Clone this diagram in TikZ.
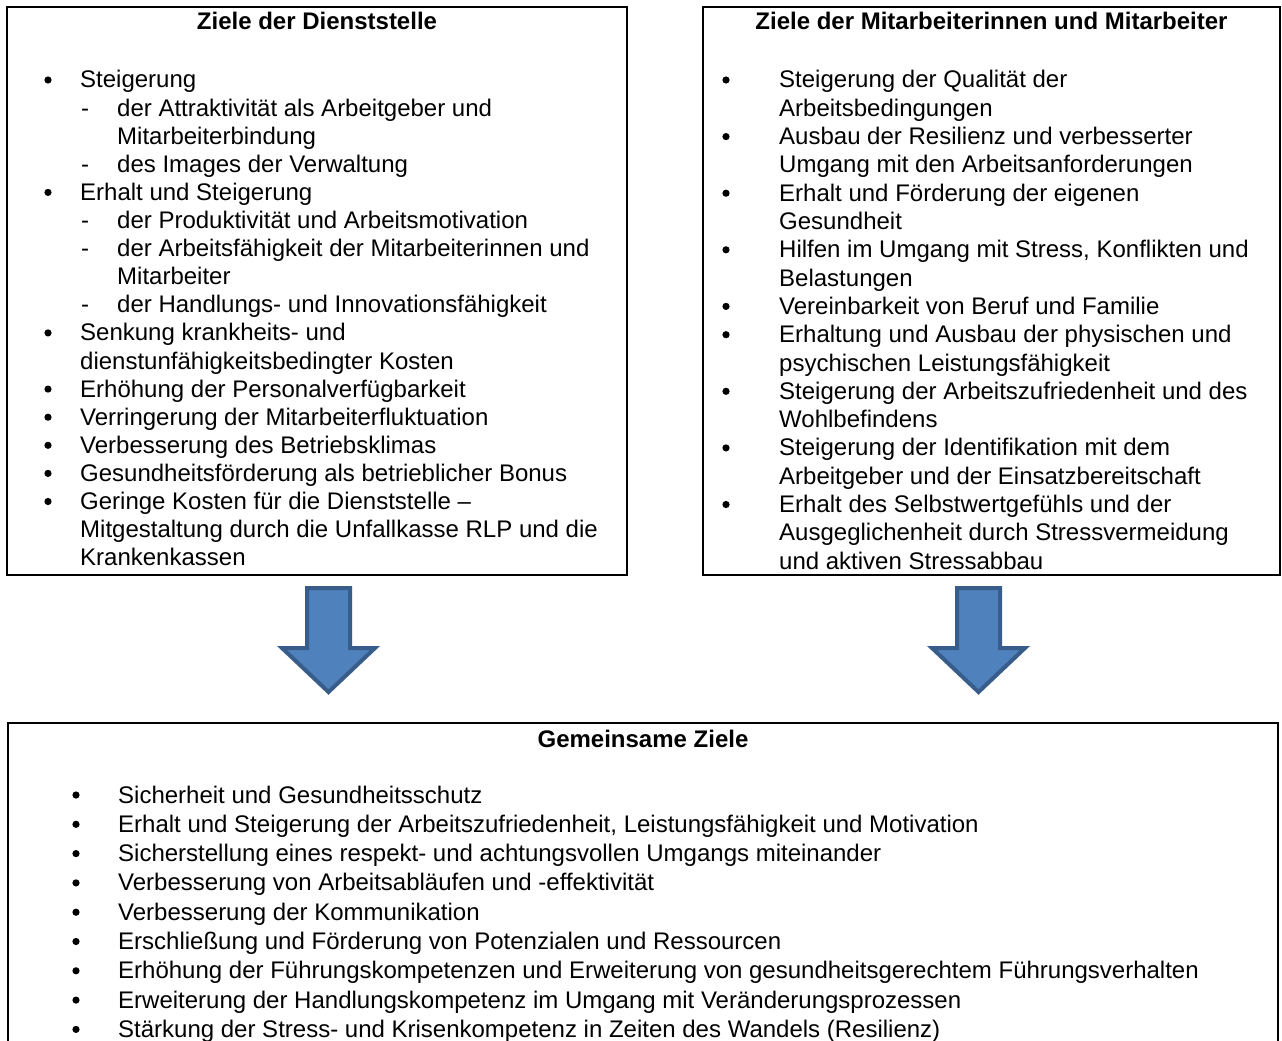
\documentclass[tikz,border=0pt]{standalone}
\usepackage{fontspec}
\setmainfont{Liberation Sans}
\definecolor{arrowfill}{HTML}{4F81BD}
\definecolor{arrowline}{HTML}{385D8A}
\begin{document}
\begin{tikzpicture}[x=1pt,y=-1pt,
  txt/.style={anchor=base west,inner sep=0pt,font=\fontsize{24}{28}\selectfont},
  ttl/.style={anchor=base,inner sep=0pt,font=\fontsize{24}{28}\selectfont\bfseries},
  bul/.style={fill=black,draw=none},
  boxline/.style={draw=black,line width=2pt},
  bigarrow/.style={fill=arrowfill,draw=arrowline,line width=4pt,line join=miter}]
\useasboundingbox (0,0) rectangle (1282,1041);
\fill[white] (0,0) rectangle (1282,1041);
% boxes
\draw[boxline] (7,7) rectangle (627,575);
\node[inner sep=0pt,minimum width=620pt,minimum height=568pt] (boxA) at (317,291) {};
\draw[boxline] (703,7) rectangle (1280,575);
\node[inner sep=0pt,minimum width=577pt,minimum height=568pt] (boxB) at (991.5,291) {};
\draw[boxline] (8,1042) -- (8,723) -- (1278,723) -- (1278,1042);
\coordinate (boxC) at (643,723);
% arrows
\draw[bigarrow] (307,588) -- (350,588) -- (350,648) -- (375,648) -- (328.5,692) -- (282,648) -- (307,648) -- cycle;
\draw[bigarrow] (957,588) -- (1000,588) -- (1000,648) -- (1025,648) -- (978.5,692) -- (932,648) -- (957,648) -- cycle;
% titles
\node[ttl] (tA) at (317,30) {Ziele der Dienststelle};
\node[ttl] (tB) at (991.5,30) {Ziele der Mitarbeiterinnen und Mitarbeiter};
\node[ttl] (tC) at (643,747) {Gemeinsame Ziele};
% left box
\def\lb#1{88+28.1*#1}
\foreach \k in {0,4,9,11,12,13,14,15} \fill[bul] (48,{\lb{\k}-8}) circle (3.6);
\foreach \k in {1,3,5,6,8} \node[txt] (dA\k) at (81,{\lb{\k}}) {-};
\node[txt] (a0) at (80,{\lb{0}}) {Steigerung};
\node[txt] (a1) at (117,{\lb{1}}) {der Attraktivität als Arbeitgeber und};
\node[txt] (a2) at (117,{\lb{2}}) {Mitarbeiterbindung};
\node[txt] (a3) at (117,{\lb{3}}) {des Images der Verwaltung};
\node[txt] (a4) at (80,{\lb{4}}) {Erhalt und Steigerung};
\node[txt] (a5) at (117,{\lb{5}}) {der Produktivität und Arbeitsmotivation};
\node[txt] (a6) at (117,{\lb{6}}) {der Arbeitsfähigkeit der Mitarbeiterinnen und};
\node[txt] (a7) at (117,{\lb{7}}) {Mitarbeiter};
\node[txt] (a8) at (117,{\lb{8}}) {der Handlungs- und Innovationsfähigkeit};
\node[txt] (a9) at (80,{\lb{9}}) {Senkung krankheits- und};
\node[txt] (a10) at (80,{\lb{10}}) {dienstunfähigkeitsbedingter Kosten};
\node[txt] (a11) at (80,{\lb{11}}) {Erhöhung der Personalverfügbarkeit};
\node[txt] (a12) at (80,{\lb{12}}) {Verringerung der Mitarbeiterfluktuation};
\node[txt] (a13) at (80,{\lb{13}}) {Verbesserung des Betriebsklimas};
\node[txt] (a14) at (80,{\lb{14}}) {Gesundheitsförderung als betrieblicher Bonus};
\node[txt] (a15) at (80,{\lb{15}}) {Geringe Kosten für die Dienststelle –};
\node[txt] (a16) at (80,{\lb{16}}) {Mitgestaltung durch die Unfallkasse RLP und die};
\node[txt] (a17) at (80,{\lb{17}}) {Krankenkassen};
% right box
\def\rb#1{88+28.3*#1}
\foreach \k in {0,2,4,6,8,9,11,13,15} \fill[bul] (726,{\rb{\k}-8}) circle (3.6);
\node[txt] (b0) at (779,{\rb{0}}) {Steigerung der Qualität der};
\node[txt] (b1) at (779,{\rb{1}}) {Arbeitsbedingungen};
\node[txt] (b2) at (779,{\rb{2}}) {Ausbau der Resilienz und verbesserter};
\node[txt] (b3) at (779,{\rb{3}}) {Umgang mit den Arbeitsanforderungen};
\node[txt] (b4) at (779,{\rb{4}}) {Erhalt und Förderung der eigenen};
\node[txt] (b5) at (779,{\rb{5}}) {Gesundheit};
\node[txt] (b6) at (779,{\rb{6}}) {Hilfen im Umgang mit Stress, Konflikten und};
\node[txt] (b7) at (779,{\rb{7}}) {Belastungen};
\node[txt] (b8) at (779,{\rb{8}}) {Vereinbarkeit von Beruf und Familie};
\node[txt] (b9) at (779,{\rb{9}}) {Erhaltung und Ausbau der physischen und};
\node[txt] (b10) at (779,{\rb{10}}) {psychischen Leistungsfähigkeit};
\node[txt] (b11) at (779,{\rb{11}}) {Steigerung der Arbeitszufriedenheit und des};
\node[txt] (b12) at (779,{\rb{12}}) {Wohlbefindens};
\node[txt] (b13) at (779,{\rb{13}}) {Steigerung der Identifikation mit dem};
\node[txt] (b14) at (779,{\rb{14}}) {Arbeitgeber und der Einsatzbereitschaft};
\node[txt] (b15) at (779,{\rb{15}}) {Erhalt des Selbstwertgefühls und der};
\node[txt] (b16) at (779,{\rb{16}}) {Ausgeglichenheit durch Stressvermeidung};
\node[txt] (b17) at (779,{\rb{17}}) {und aktiven Stressabbau};
% bottom box
\def\cb#1{803+29.3*#1}
\foreach \k in {0,...,8} \fill[bul] (76,{\cb{\k}-8}) circle (3.6);
\node[txt] (c0) at (118,{\cb{0}}) {Sicherheit und Gesundheitsschutz};
\node[txt] (c1) at (118,{\cb{1}}) {Erhalt und Steigerung der Arbeitszufriedenheit, Leistungsfähigkeit und Motivation};
\node[txt] (c2) at (118,{\cb{2}}) {Sicherstellung eines respekt- und achtungsvollen Umgangs miteinander};
\node[txt] (c3) at (118,{\cb{3}}) {Verbesserung von Arbeitsabläufen und -effektivität};
\node[txt] (c4) at (118,{\cb{4}}) {Verbesserung der Kommunikation};
\node[txt] (c5) at (118,{\cb{5}}) {Erschließung und Förderung von Potenzialen und Ressourcen};
\node[txt] (c6) at (118,{\cb{6}}) {Erhöhung der Führungskompetenzen und Erweiterung von gesundheitsgerechtem Führungsverhalten};
\node[txt] (c7) at (118,{\cb{7}}) {Erweiterung der Handlungskompetenz im Umgang mit Veränderungsprozessen};
\node[txt] (c8) at (118,{\cb{8}}) {Stärkung der Stress- und Krisenkompetenz in Zeiten des Wandels (Resilienz)};
\end{tikzpicture}
\end{document}
